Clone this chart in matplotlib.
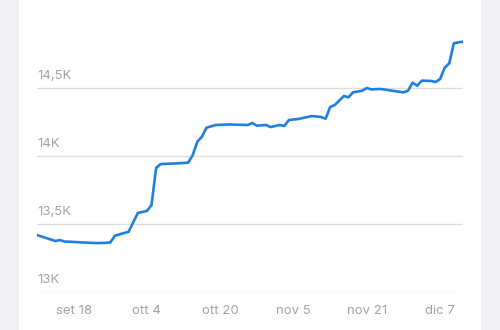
import numpy as np
import pandas as pd
import matplotlib
matplotlib.use("Agg")
import matplotlib.pyplot as plt
import matplotlib.transforms as mtransforms

plt.rcParams['font.family'] = ['Inter', 'DejaVu Sans']

# values (date, value)
dates = [
    "2023-09-10", "2023-09-12", "2023-09-14", "2023-09-15", "2023-09-16",
    "2023-09-18", "2023-09-20", "2023-09-23", "2023-09-24", "2023-09-26",
    "2023-09-27", "2023-09-30", "2023-10-02", "2023-10-04", "2023-10-05",
    "2023-10-06", "2023-10-07", "2023-10-10", "2023-10-13", "2023-10-14",
    "2023-10-15", "2023-10-16", "2023-10-17", "2023-10-19", "2023-10-22",
    "2023-10-26", "2023-10-27", "2023-10-28", "2023-10-30", "2023-10-31",
    "2023-11-02", "2023-11-03", "2023-11-04", "2023-11-06", "2023-11-09",
    "2023-11-11", "2023-11-12", "2023-11-13", "2023-11-14", "2023-11-16",
    "2023-11-17", "2023-11-18", "2023-11-20", "2023-11-21", "2023-11-22",
    "2023-11-24", "2023-11-26", "2023-11-29", "2023-11-30", "2023-12-01",
    "2023-12-02", "2023-12-03", "2023-12-05", "2023-12-06", "2023-12-07",
    "2023-12-08", "2023-12-09", "2023-12-10", "2023-12-11", "2023-12-12",
]
values = [
    13419, 13397, 13375, 13382, 13371,
    13368, 13364, 13360, 13360, 13364,
    13414, 13443, 13581, 13596, 13640,
    13912, 13941, 13945, 13951, 14007,
    14105, 14142, 14208, 14228, 14232,
    14228, 14243, 14223, 14228, 14213,
    14228, 14221, 14265, 14272, 14294,
    14287, 14274, 14360, 14375, 14441,
    14432, 14468, 14480, 14500, 14490,
    14493, 14483, 14468, 14480, 14539,
    14517, 14554, 14552, 14544, 14566,
    14649, 14682, 14829, 14836, 14840,
]

y_ticks = [13000, 13500, 14000, 14500]
y_labels = ["13K", "13,5K", "14K", "14,5K"]
x_ticks = ["2023-09-18", "2023-10-04", "2023-10-20", "2023-11-05", "2023-11-21", "2023-12-07"]
x_labels = ["set 18", "ott 4", "ott 20", "nov 5", "nov 21", "dic 7"]

dates = pd.to_datetime(dates)
x_ticks = pd.to_datetime(x_ticks)

fig = plt.figure(figsize=(5, 3.3), dpi=100, facecolor='#efeff4')

# white card behind the chart
card = fig.add_axes([19 / 500, 0, 462 / 500, 1])
card.set_facecolor('white')
card.set_xticks([])
card.set_yticks([])
for s in card.spines.values():
    s.set_visible(False)
card.set_zorder(0)

ax = fig.add_axes([37 / 500, 1 - 292 / 330, 426 / 500, 0.783])
ax.set_zorder(1)
ax.set_facecolor('none')
ax.plot(dates, values, color='#1f7fe1', lw=1.9, solid_joinstyle='round', zorder=3)

ax.set_xlim(dates[0], dates[-1])
ax.set_ylim(13000, 14900)

for s in ax.spines.values():
    s.set_visible(False)

for v in y_ticks:
    ax.axhline(v, color='#dedede', lw=0.9, zorder=1)
trans = mtransforms.blended_transform_factory(ax.transAxes, ax.transData)
for v, lab in zip(y_ticks, y_labels):
    ax.annotate(lab, (0, v), xycoords=trans, xytext=(0, 4), textcoords='offset points',
                ha='left', va='bottom', fontsize=9.5, color='#a3a3a3')

ax.set_yticks([])
ax.set_xticks(x_ticks)
ax.set_xticklabels(x_labels, fontsize=9.5, color='#a3a3a3')
ax.tick_params(axis='x', length=0, pad=9)

fig.savefig('out.png', dpi=100, facecolor=fig.get_facecolor())
